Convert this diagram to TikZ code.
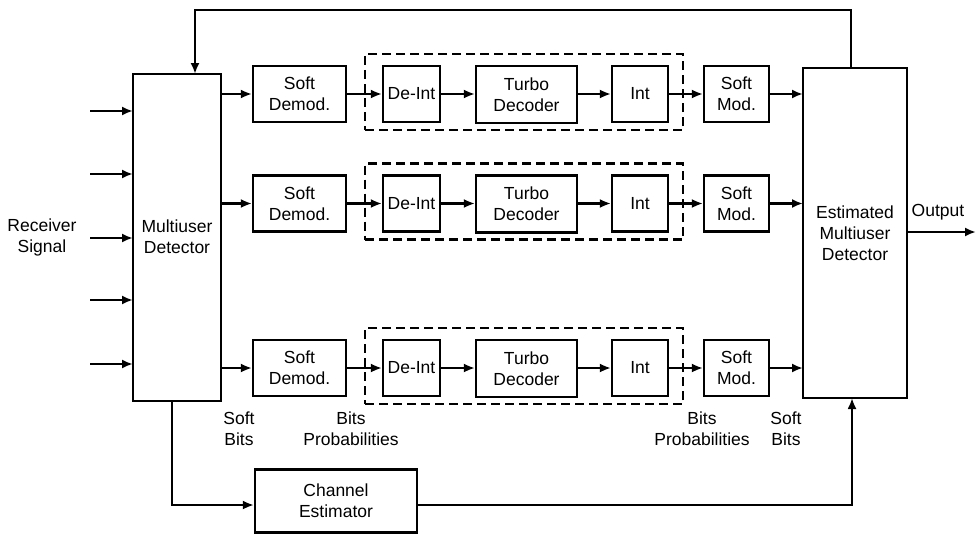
\documentclass[tikz,border=0pt]{standalone}
\usepackage{fontspec}
\setmainfont{Liberation Sans}
\usetikzlibrary{arrows.meta}
\begin{document}
\begin{tikzpicture}[x=1pt,y=-1pt,
  line width=2.2pt,
  every node/.style={font=\fontsize{17.5}{21}\selectfont, align=center, inner sep=0pt},
  blk/.style={draw, line width=2.2pt},
  arr/.style={-{Latex[length=11pt,width=9pt]}, line width=2.2pt},
  dbox/.style={draw, dash pattern=on 9pt off 5pt, line width=2.2pt},
  lbl/.style={}]
\useasboundingbox (0,0) rectangle (976,535);
% main blocks
\node[blk, minimum width=88pt, minimum height=327pt] (md) at (177,237.5) {};
\node at (177,237) {Multiuser\\Detector};
\node[blk, minimum width=104pt, minimum height=330pt] (emd) at (855,233) {};
\node at (855,233) {Estimated\\Multiuser\\Detector};
\node at (42,237) (rs) {Receiver\\Signal};
% input arrows
\foreach \yy [count=\i] in {111,174,238,300,364}{
  \coordinate (in\i) at (90,\yy);
  \coordinate (mdin\i) at (133,\yy);
  \draw[arr] (in\i) -- (mdin\i);
}
% rows
\foreach \r/\yy in {1/94,2/203.5,3/368}{
  \node[blk, minimum width=93pt, minimum height=56pt] (sd\r) at (299.5,\yy) {Soft\\Demod.};
  \node[blk, minimum width=57pt, minimum height=56pt] (di\r) at (411.5,\yy) {De-Int};
  \node[blk, minimum width=101pt, minimum height=57pt] (td\r) at (526.5,\yy+0.5) {Turbo\\Decoder};
  \node[blk, minimum width=56pt, minimum height=56pt] (it\r) at (640,\yy) {Int};
  \node[blk, minimum width=65pt, minimum height=56pt] (sm\r) at (736.5,\yy) {Soft\\Mod.};
  \node[dbox, minimum width=318pt, minimum height=76pt] (db\r) at (524,\yy-2) {};
  \coordinate (mdo\r) at (221,\yy);
  \coordinate (emdi\r) at (803,\yy);
  \draw[arr] (mdo\r) -- (sd\r.west);
  \draw[arr] (sd\r.east) -- (di\r.west);
  \draw[arr] (di\r.east) -- (td\r.west |- di\r.east);
  \draw[arr] (td\r.east |- it\r.west) -- (it\r.west);
  \draw[arr] (it\r.east) -- (sm\r.west);
  \draw[arr] (sm\r.east) -- (emdi\r);
}
% labels
\node at (239,428.5) (sb1) {Soft\\Bits};
\node at (351,428.5) (bp1) {Bits\\Probabilities};
\node at (702,428.5) (bp2) {Bits\\Probabilities};
\node at (786,428.5) (sb2) {Soft\\Bits};
% channel estimator
\node[blk, minimum width=162pt, minimum height=63pt] (ce) at (336,501) {Channel\\Estimator};
\coordinate (mdb) at (172,401);
\coordinate (c1) at (172,505);
\coordinate (c2) at (852,505);
\coordinate (emdb) at (852,398);
\draw[arr] (mdb) -- (c1) -- (ce.west |- c1);
\draw[arr] (ce.east |- c2) -- (c2) -- (emdb);
% feedback
\coordinate (f0) at (851,68);
\coordinate (f1) at (851,10);
\coordinate (f2) at (195,10);
\coordinate (f3) at (195,74);
\draw[arr] (f0) -- (f1) -- (f2) -- (f3);
% output
\coordinate (oe) at (907,232);
\coordinate (oo) at (976,232);
\draw[arr] (oe) -- (oo);
\node at (938,212) (out) {Output};
\end{tikzpicture}
\end{document}
